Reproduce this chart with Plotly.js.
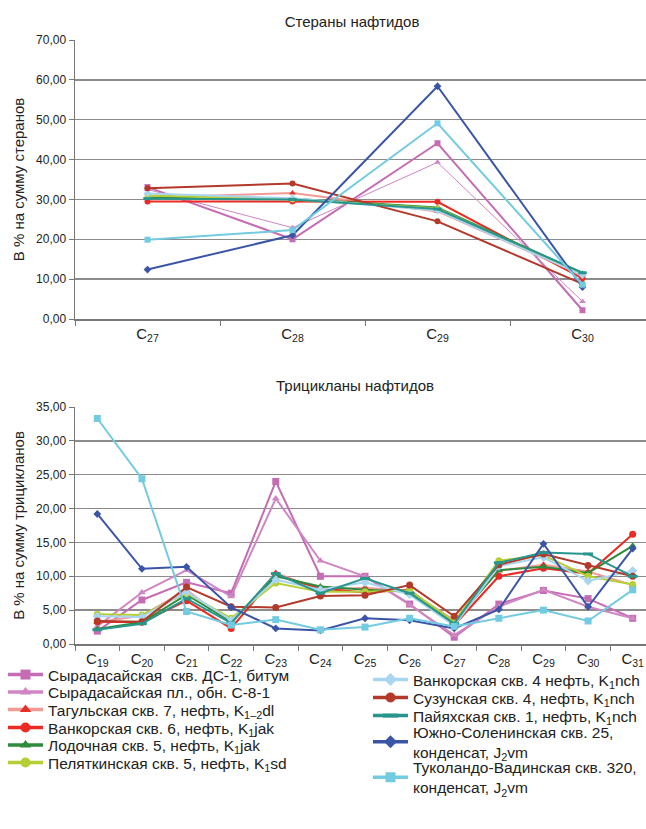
<!DOCTYPE html>
<html>
<head>
<meta charset="utf-8">
<script src="https://cdn.plot.ly/plotly-3.0.1.min.js"></script>
<style>
html, body { margin: 0; padding: 0; overflow: hidden; background: #fff; }
#chart { width: 660px; height: 829px; }
</style>
</head>
<body>
<div id="chart"></div>
<script>
// ---- Categories ----
const steraneCats = ['C<sub>27</sub>', 'C<sub>28</sub>', 'C<sub>29</sub>', 'C<sub>30</sub>'];
const tricycCats = ['C<sub>19</sub>', 'C<sub>20</sub>', 'C<sub>21</sub>', 'C<sub>22</sub>', 'C<sub>23</sub>', 'C<sub>24</sub>',
  'C<sub>25</sub>', 'C<sub>26</sub>', 'C<sub>27</sub>', 'C<sub>28</sub>', 'C<sub>29</sub>', 'C<sub>30</sub>', 'C<sub>31</sub>'];

// ---- Series names ----
const seriesNames = [
  'Сырадасайская  скв. ДС-1, битум',
  'Сырадасайская пл., обн. С-8-1',
  'Тагульская скв. 7, нефть, K<sub>1–2</sub>dl',
  'Ванкорская скв. 6, нефть, K<sub>1</sub>jak',
  'Лодочная скв. 5, нефть, K<sub>1</sub>jak',
  'Пеляткинская скв. 5, нефть, K<sub>1</sub>sd',
  'Ванкорская скв. 4 нефть, K<sub>1</sub>nch',
  'Сузунская скв. 4, нефть, K<sub>1</sub>nch',
  'Пайяхская скв. 1, нефть, K<sub>1</sub>nch',
  'Южно-Соленинская скв. 25,<br>конденсат, J<sub>2</sub>vm',
  'Туколандо-Вадинская скв. 320,<br>конденсат, J<sub>2</sub>vm'
];

// ---- Steranes (% of sum of steranes), C27..C30 ----
const sterSyrDS1   = [33.1, 20.0, 44.1, 2.2];
const sterSyrPl    = [32.5, 22.9, 39.3, 4.4];
const sterTagul    = [30.5, 31.6, 27.0, 11.0];
const sterVank6    = [29.5, 29.5, 29.4, 10.2];
const sterLodoch   = [30.4, 30.2, 28.0, 11.5];
const sterPelyat   = [31.0, 30.0, 27.8, 11.2];
const sterVank4    = [31.5, 30.3, 27.2, 11.0];
const sterSuzun    = [32.8, 34.0, 24.5, 8.8];
const sterPaiyakh  = [30.2, 30.0, 27.6, 11.6];
const sterYuzhSol  = [12.4, 21.0, 58.4, 8.0];
const sterTukol    = [19.9, 22.3, 49.1, 8.6];

// ---- Tricyclanes (% of sum of tricyclanes), C19..C31 ----
const triSyrDS1  = [1.9, 6.5, 9.1, 7.5, 24.0, 10.0, 10.0, 5.9, 1.0, 5.9, 7.9, 6.7, 3.8];
const triSyrPl   = [2.6, 7.6, 10.9, 7.0, 21.5, 12.3, 10.0, 5.8, 1.3, 5.5, 8.0, 5.5, 3.8];
const triTagul   = [3.2, 4.2, 8.0, 3.0, 10.5, 8.0, 8.3, 7.8, 3.5, 10.8, 11.7, 10.7, 8.7];
const triVank6   = [3.3, 3.2, 6.4, 2.3, 10.2, 8.2, 7.6, 8.0, 2.8, 10.0, 11.2, 10.4, 16.2];
const triLodoch  = [2.2, 3.2, 7.3, 3.3, 10.0, 8.5, 8.0, 7.7, 3.2, 10.9, 11.4, 10.5, 14.5];
const triPelyat  = [4.4, 4.3, 7.5, 3.8, 9.0, 7.7, 7.7, 7.9, 3.3, 12.3, 13.1, 10.0, 8.8];
const triVank4   = [4.1, 4.0, 7.7, 3.5, 9.5, 8.0, 9.1, 7.3, 2.7, 11.5, 12.8, 9.3, 10.8];
const triSuzun   = [3.4, 3.3, 8.4, 5.5, 5.4, 7.1, 7.2, 8.7, 4.1, 11.7, 13.3, 11.6, 10.0];
const triPaiyakh = [2.1, 3.0, 6.7, 3.1, 10.4, 7.5, 9.7, 7.5, 3.0, 12.0, 13.5, 13.3, 10.0];
const triYuzhSol = [19.2, 11.1, 11.4, 5.4, 2.3, 2.0, 3.8, 3.5, 2.3, 5.1, 14.8, 5.5, 14.1];
const triTukol   = [33.3, 24.4, 4.8, 2.8, 3.6, 2.1, 2.5, 3.8, 2.6, 3.8, 5.0, 3.4, 8.0];

const steraneData = [sterSyrDS1, sterSyrPl, sterTagul, sterVank6, sterLodoch, sterPelyat,
  sterVank4, sterSuzun, sterPaiyakh, sterYuzhSol, sterTukol];
const tricycData = [triSyrDS1, triSyrPl, triTagul, triVank6, triLodoch, triPelyat,
  triVank4, triSuzun, triPaiyakh, triYuzhSol, triTukol];

// ---- Styles ----
const lineColors   = ['#c46db4', '#cf86c3', '#f29a94', '#ea2a23', '#2f8b3c', '#b5cf35',
  '#a9d5f0', '#b3392a', '#28968c', '#3b55a6', '#72cbe0'];
const markerColors = ['#c46db4', '#cf86c3', '#e8302a', '#ea2a23', '#2f8b3c', '#b5cf35',
  '#a9d5f0', '#b3392a', '#28968c', '#3b55a6', '#72cbe0'];
const symbols = ['square', 'triangle-up', 'triangle-up', 'circle', 'triangle-up', 'circle',
  'diamond', 'circle', 'line-ew-open', 'diamond', 'square'];
const topWidths = [2, 1, 2, 2, 2, 2, 2, 2, 2, 2, 2];

const H = 829, W = 660, L = 75, R = 5;
const pw = W - L - R;
const fy = (px) => 1 - px / H;   // paper y from pixel
const fx = (px) => (px - L) / pw; // paper x from pixel

// legend rows: [left x of legend box, centre y] in pixels
const legendX = [3, 3, 3, 3, 3, 3, 368, 368, 368, 368, 368];
const legendY = [675, 692.5, 710, 728, 745.5, 763, 680, 698, 716, 742, 777.5];

const FAM = 'Liberation Sans, Arial, sans-serif';
const traces = [];
for (let i = 0; i < seriesNames.length; i++) {
  const lid = i === 0 ? 'legend' : 'legend' + (i + 1);
  const isDash = symbols[i] === 'line-ew-open';
  const mk = {
    symbol: symbols[i], size: i === 9 ? 6 : 7,
    color: markerColors[i],
    line: isDash ? {color: markerColors[i], width: 3} : {width: 0}
  };
  traces.push({
    type: 'scatter', mode: 'lines+markers', name: seriesNames[i],
    x: steraneCats, y: steraneData[i], xaxis: 'x', yaxis: 'y',
    legendgroup: 'g' + i, legend: lid, showlegend: false,
    line: {color: lineColors[i], width: topWidths[i]},
    marker: Object.assign({}, mk, {size: 6})
  });
  traces.push({
    type: 'scatter', mode: 'lines+markers', name: seriesNames[i],
    x: tricycCats, y: tricycData[i], xaxis: 'x2', yaxis: 'y2',
    legendgroup: 'g' + i, legend: lid, showlegend: false,
    line: {color: lineColors[i], width: 2},
    marker: mk
  });
  // legend key (larger symbol, as in the original key); holds no plotted point
  traces.push({
    type: 'scatter', mode: 'lines+markers', name: seriesNames[i],
    x: [null], y: [null], xaxis: 'x2', yaxis: 'y2', hoverinfo: 'skip',
    legendgroup: 'g' + i, legend: lid, showlegend: true,
    line: {color: lineColors[i], width: 3.5},
    marker: {symbol: symbols[i], size: isDash ? 11 : 10, color: markerColors[i],
      line: isDash ? {color: markerColors[i], width: 4} : {width: 0}}
  });
}

const gridColor = '#8c8c8c';
const axisFont = {family: FAM, size: 12, color: '#222'};
const catFont = {family: FAM, size: 15, color: '#222'};
const titleFont = {family: FAM, size: 15, color: '#222'};

const xCommon = {
  type: 'category', tickson: 'boundaries', ticks: 'outside', ticklen: 5, tickwidth: 1,
  tickcolor: '#777', showline: true, linecolor: '#777', linewidth: 1.5, showgrid: false,
  zeroline: false, tickfont: catFont, fixedrange: true
};
const yCommon = {
  tickformat: '.2f', ticks: 'outside', ticklen: 5, tickcolor: '#777', showline: true,
  linecolor: '#777', linewidth: 1.5, gridcolor: gridColor, gridwidth: 1.5, zeroline: false,
  tickfont: axisFont, fixedrange: true
};

const layout = {
  width: W, height: H,
  margin: {l: L, r: R, t: 0, b: 0},
  paper_bgcolor: '#fff', plot_bgcolor: '#fff',
  separators: ', ',
  font: {family: FAM, color: '#222'},
  title: {text: 'Стераны нафтидов', font: titleFont, x: 352 / W, xanchor: 'center',
    xref: 'container', y: 1 - 22 / H, yref: 'container', yanchor: 'middle'},
  xaxis: Object.assign({}, xCommon, {anchor: 'y', domain: [0, 1], range: [-0.5, 3.5]}),
  yaxis: Object.assign({}, yCommon, {anchor: 'x', domain: [fy(319), fy(40)], range: [0, 70], dtick: 10,
    title: {text: 'В % на сумму стеранов', font: {family: FAM, size: 15, color: '#222'}, standoff: 8}}),
  xaxis2: Object.assign({}, xCommon, {anchor: 'y2', domain: [0, 1], range: [-0.5, 12.5]}),
  yaxis2: Object.assign({}, yCommon, {anchor: 'x2', domain: [fy(644), fy(407)], range: [0, 35], dtick: 5,
    title: {text: 'В % на сумму трицикланов', font: {family: FAM, size: 15, color: '#222'}, standoff: 8}}),
  annotations: [{
    text: 'Трицикланы нафтидов', xref: 'paper', yref: 'paper', x: fx(355), y: fy(385),
    xanchor: 'center', yanchor: 'middle', showarrow: false, font: titleFont
  }]
};

for (let i = 0; i < seriesNames.length; i++) {
  const key = i === 0 ? 'legend' : 'legend' + (i + 1);
  layout[key] = {
    x: fx(legendX[i]), y: fy(legendY[i]), xanchor: 'left', yanchor: 'middle', orientation: 'v',
    bgcolor: 'rgba(0,0,0,0)', borderwidth: 0, itemwidth: 35,
    font: {family: FAM, size: 15.5, color: '#222'}
  };
}

Plotly.newPlot('chart', traces, layout, {displayModeBar: false, staticPlot: true});
</script>
</body>
</html>
